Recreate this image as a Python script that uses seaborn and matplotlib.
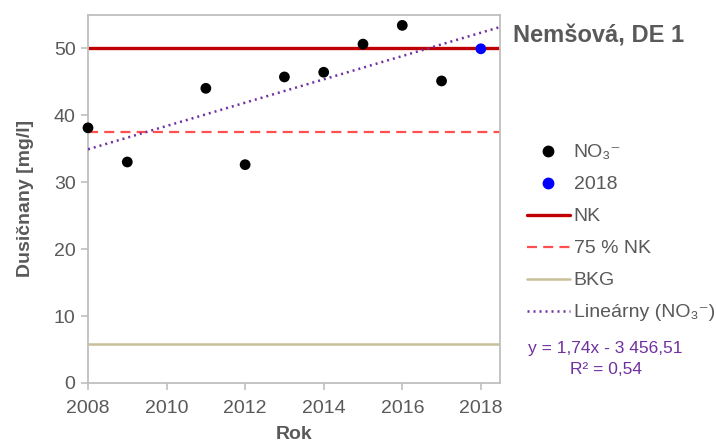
import numpy as np
import pandas as pd
import matplotlib
matplotlib.use("Agg")
import matplotlib.pyplot as plt
import seaborn as sns
from matplotlib.lines import Line2D

# Nitrate concentrations per year
years = [2008, 2009, 2011, 2012, 2013, 2014, 2015, 2016, 2017]
no3 = [38.1, 33.0, 44.0, 32.6, 45.7, 46.4, 50.6, 53.4, 45.1]
year_2018 = [2018]
no3_2018 = [49.9]

# Reference levels
nk = 50.0
nk75 = 37.5
bkg = 5.84

x_ticks = [2008, 2010, 2012, 2014, 2016, 2018]
y_ticks = [0, 10, 20, 30, 40, 50]
equation_text = "y = 1,74x - 3 456,51"
r2_text = "R² = 0,54"

sns.set_theme(style="white")
plt.rcParams["font.family"] = ["Liberation Sans", "DejaVu Sans"]

TXT = "#595959"
SPINE = "#BFBFBF"
PURPLE = "#7030A0"

fig = plt.figure(figsize=(7.16, 4.44), dpi=100)
ax = fig.add_axes([0.1229, 0.1374, 0.699 - 0.1229, 0.967 - 0.1374])

xmin, xmax = 2008, 2018.5
ax.axhline(nk, color="#C00000", lw=2.4, zorder=2)
ax.axhline(nk75, color="#FF4F4F", lw=1.6, dashes=(4.5, 2.8), zorder=2)
ax.axhline(bkg, color="#C9BF98", lw=1.8, zorder=2)

# Linear trend of the nitrate series
coef = np.polyfit(years, no3, 1)
trend = pd.DataFrame({"x": [xmin, xmax]})
trend["y"] = np.polyval(coef, trend["x"])
ax.plot(trend["x"], trend["y"], color=PURPLE, lw=1.8, ls=(0, (0.8, 1.6)), zorder=3)

df = pd.DataFrame({"year": years, "no3": no3})
sns.scatterplot(data=df, x="year", y="no3", color="black", s=60, edgecolor="none",
                ax=ax, zorder=4, clip_on=False)
df18 = pd.DataFrame({"year": year_2018, "no3": no3_2018})
sns.scatterplot(data=df18, x="year", y="no3", color="#0000FF", s=60, edgecolor="none",
                ax=ax, zorder=4)

ax.set_xlim(xmin, xmax)
ax.set_ylim(0, 55)
ax.set_xticks(x_ticks)
ax.set_yticks(y_ticks)
ax.tick_params(axis="both", which="major", labelsize=14, labelcolor=TXT, color=SPINE,
               direction="out", length=5, width=1.2, bottom=True, left=True)
ax.tick_params(axis="x", pad=7)
ax.tick_params(axis="y", pad=4)
for s in ax.spines.values():
    s.set_color(SPINE)
    s.set_linewidth(1.3)

ax.set_xlabel("Rok", fontsize=14, fontweight="bold", color=TXT, labelpad=7)
ax.set_ylabel("Dusičnany [mg/l]", fontsize=14, fontweight="bold", color=TXT, labelpad=14)

fig.text(0.717, 0.92, "Nemšová, DE 1", fontsize=17, fontweight="bold", color=TXT,
         ha="left", va="center")

handles = [
    Line2D([], [], ls="none", marker="o", color="black", markersize=7.5),
    Line2D([], [], ls="none", marker="o", color="#0000FF", markersize=7.5),
    Line2D([], [], color="#C00000", lw=2.4),
    Line2D([], [], color="#FF4F4F", lw=1.6, dashes=(4.5, 2.8)),
    Line2D([], [], color="#C9BF98", lw=1.8),
    Line2D([], [], color=PURPLE, lw=1.8, ls=(0, (0.8, 1.6))),
]
labels = ["NO₃⁻", "2018", "NK", "75 % NK", "BKG", "Lineárny (NO₃⁻)"]
leg = fig.legend(handles, labels, loc="upper left", bbox_to_anchor=(0.736, 0.676),
                 frameon=False, fontsize=14, handlelength=2.2, handletextpad=0.2,
                 labelspacing=0.74, borderpad=0, borderaxespad=0)
for t in leg.get_texts():
    t.set_color(TXT)

fig.text(0.846, 0.214, equation_text, fontsize=12.5, color=PURPLE, ha="center", va="center")
fig.text(0.846, 0.167, r2_text, fontsize=12.5, color=PURPLE, ha="center", va="center")

fig.savefig("out.png", dpi=100)
